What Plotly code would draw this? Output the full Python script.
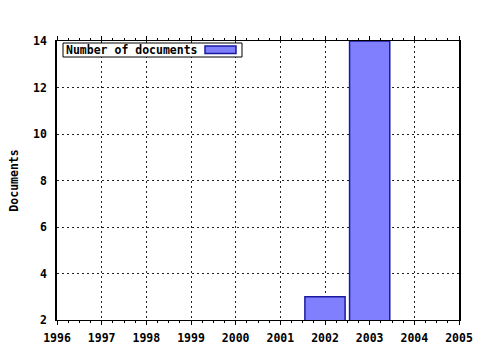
import plotly.graph_objects as go

years = [2002, 2003]
documents = [3, 14]
x_ticks = list(range(1996, 2006))
y_ticks = [2, 4, 6, 8, 10, 12, 14]
series_name = "Number of documents"

FS = 11.5
font = dict(family="DejaVu Sans Mono", size=FS, color="black")
bar_fill = "#8080ff"
bar_edge = "#1a1aa0"

fig = go.Figure()
fig.add_trace(go.Bar(
    x=years, y=documents, base=0, width=0.9,
    name=series_name, showlegend=False,
    marker=dict(color=bar_fill, line=dict(color=bar_edge, width=1.5)),
))

# manual legend box (text left, swatch right)
L, R, T, B = 57, 459, 41, 320
def px(x): return (x - L) / (R - L)
def py(y): return (B - y) / (B - T)

fig.add_shape(type="rect", xref="paper", yref="paper",
              x0=px(63), x1=px(242), y0=py(57), y1=py(43),
              line=dict(color="black", width=1), fillcolor="white", layer="above")
fig.add_shape(type="rect", xref="paper", yref="paper",
              x0=px(205), x1=px(236), y0=py(53.5), y1=py(46),
              line=dict(color=bar_edge, width=1.5), fillcolor=bar_fill, layer="above")
fig.add_annotation(xref="paper", yref="paper", x=px(64), y=py(50),
                   xanchor="left", yanchor="middle", showarrow=False,
                   text=f"<b>{series_name}</b>", font=font)

fig.update_layout(
    width=480, height=350,
    margin=dict(l=L, r=480 - R, t=T, b=350 - B, autoexpand=False),
    paper_bgcolor="white", plot_bgcolor="white",
    font=font,
    showlegend=False,
    xaxis=dict(range=[1996, 2005], tickvals=x_ticks, automargin=False,
               ticktext=[f"<b>{v}</b>" for v in x_ticks],
               showgrid=True, gridcolor="#222", griddash="2px,3px", gridwidth=1,
               showline=True, linecolor="black", linewidth=1, mirror="ticks",
               ticks="outside", ticklen=4, tickcolor="black", ticklabelstandoff=3,
               minor=dict(dtick=0.25, ticks="outside", ticklen=2, tickcolor="black", showgrid=False),
               zeroline=False),
    yaxis=dict(range=[2, 14], tickvals=y_ticks, automargin=False,
               ticktext=[f"<b>{v}</b>" for v in y_ticks],
               title=dict(text="<b>Documents</b>", standoff=12, font=font),
               showgrid=True, gridcolor="#222", griddash="2px,3px", gridwidth=1,
               showline=True, linecolor="black", linewidth=1.5, mirror=True,
               ticks="", ticklabelstandoff=6,
               zeroline=False),
)

fig.write_html("out.html")
